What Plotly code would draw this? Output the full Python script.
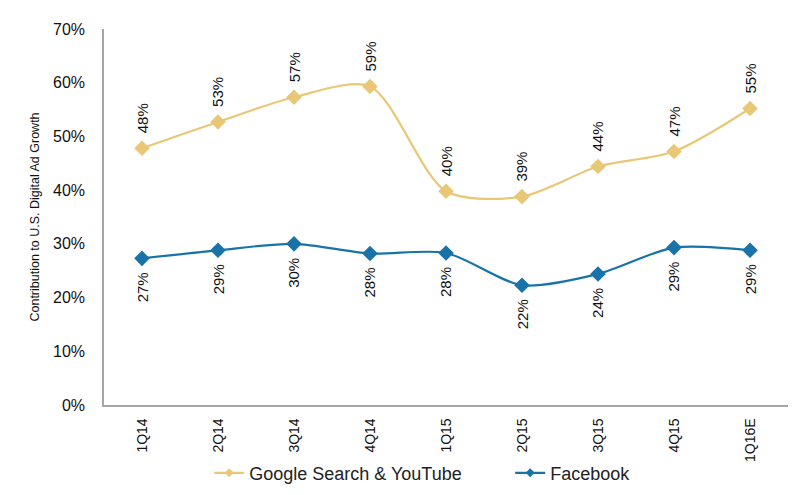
from plotly import graph_objects as go

QUARTERS = ["1Q14", "2Q14", "3Q14", "4Q14", "1Q15", "2Q15", "3Q15", "4Q15", "1Q16E"]
GOOGLE = [47.8, 52.7, 57.3, 59.3, 39.8, 38.8, 44.4, 47.2, 55.2]
FACEBOOK = [27.3, 28.8, 30.0, 28.2, 28.3, 22.3, 24.4, 29.3, 28.8]
Y_TICKS = [0, 10, 20, 30, 40, 50, 60, 70]

GOLD = "#E8C877"
BLUE = "#1A73A8"
FONT = "Liberation Sans, Arial, sans-serif"


def make_chart() -> go.Figure:
	fig = go.Figure()

	series = [
		("Google Search & YouTube", GOOGLE, GOLD),
		("Facebook", FACEBOOK, BLUE),
	]
	for name, values, color in series:
		fig.add_trace(go.Scatter(
			x=QUARTERS, y=values, mode="lines+markers", name=name,
			line=dict(color=color, width=2.2, shape="spline", smoothing=0.8),
			marker=dict(symbol="diamond", size=12, color=color),
			showlegend=False,
		))
		# legend entry with the small marker of the original
		fig.add_trace(go.Scatter(
			x=[None], y=[None], mode="lines+markers", name=name,
			line=dict(color=color, width=2.2),
			marker=dict(symbol="diamond", size=7, color=color),
		))

	# vertical data labels: Google above, Facebook below
	for q, v in zip(QUARTERS, GOOGLE):
		fig.add_annotation(
			x=q, y=v, text=f"{round(v)}%", textangle=-90, showarrow=False,
			yanchor="bottom", yshift=13, font=dict(size=15, color="#111111", family=FONT),
		)
	for q, v in zip(QUARTERS, FACEBOOK):
		fig.add_annotation(
			x=q, y=v, text=f"{round(v)}%", textangle=-90, showarrow=False,
			yanchor="top", yshift=-12, font=dict(size=15, color="#111111", family=FONT),
		)

	# the page body adds an 8px margin, so the figure is 8px smaller than the window
	fig.update_layout(
		width=789, height=487,
		paper_bgcolor="white", plot_bgcolor="white",
		font=dict(family=FONT, color="#222222"),
		margin=dict(l=96, r=9, t=21, b=90),
		showlegend=True,
		legend=dict(
			orientation="h", x=0.255, xanchor="left", xref="container",
			y=0.045, yanchor="middle", yref="container",
			font=dict(size=18, color="#222222"),
			entrywidth=256, entrywidthmode="pixels",
			bgcolor="rgba(0,0,0,0)",
		),
		xaxis=dict(
			type="category", range=[-0.5, len(QUARTERS) - 0.5], automargin=False,
			tickangle=-90, tickfont=dict(size=14, color="#111111"),
			showgrid=False, showline=True, linecolor="#A6A6A6", linewidth=1.5,
			ticks="", ticklabelstandoff=6,
		),
		yaxis=dict(
			range=[0, 70], tickvals=Y_TICKS, ticktext=[f"{t}%" for t in Y_TICKS],
			automargin=False,
			tickfont=dict(size=16, color="#111111"), showgrid=False, zeroline=False,
			showline=True, linecolor="#A6A6A6", linewidth=1.5, ticks="",
			ticklabelstandoff=14,
			title=dict(text="Contribution to U.S. Digital Ad Growth",
				font=dict(size=12.5, color="#111111"), standoff=11),
		),
	)
	return fig


fig = make_chart()
fig.write_html("out.html")
